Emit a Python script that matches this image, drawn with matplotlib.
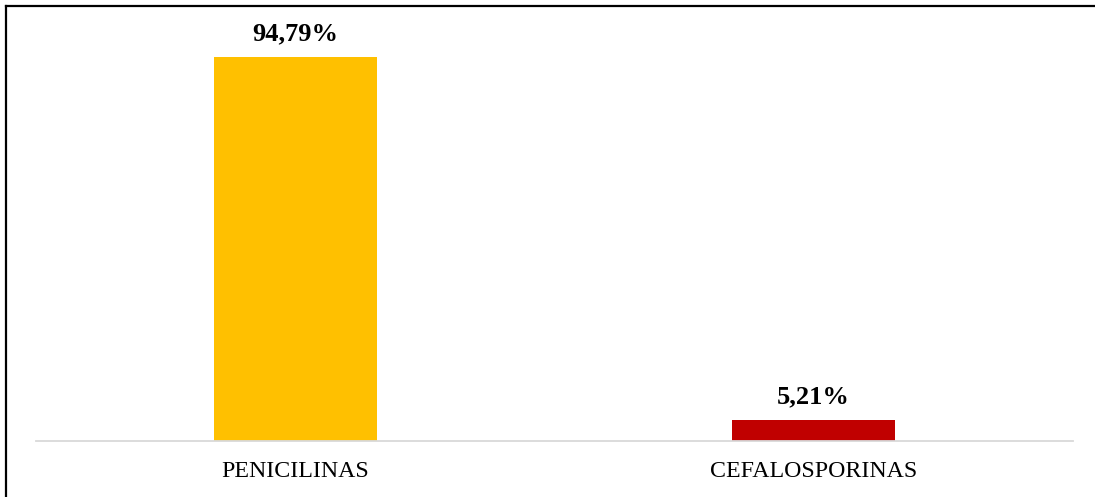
import matplotlib.pyplot as plt
from matplotlib.lines import Line2D

categorias = ['PENICILINAS', 'CEFALOSPORINAS']
porcentajes = [94.79, 5.21]
colores = ['#FFC000', '#C00000']

plt.rcParams['font.family'] = ['Liberation Serif', 'DejaVu Serif']

fig = plt.figure(figsize=(10.95, 4.97), dpi=100)
ax = fig.add_axes([36 / 1095, 56 / 497, 1037 / 1095, 405 / 497])

x = range(len(categorias))
bars = ax.bar(x, porcentajes, width=0.314, color=colores, zorder=2)

# etiquetas de valor encima de cada barra
for b, v in zip(bars, porcentajes):
    etiqueta = f'{v:.2f}%'.replace('.', ',')
    ax.annotate(etiqueta, (b.get_x() + b.get_width() / 2, v),
                xytext=(0, 12), textcoords='offset points',
                ha='center', va='baseline', fontsize=19, fontweight='bold')

ax.set_xlim(-0.5, 1.5)
ax.set_ylim(0, 100)
ax.set_xticks(list(x))
ax.set_xticklabels(categorias, fontsize=17.2)
ax.tick_params(axis='x', length=0, pad=14.3)
ax.set_yticks([])
for side in ['top', 'right', 'left']:
    ax.spines[side].set_visible(False)
ax.spines['bottom'].set_color('#D9D9D9')
ax.spines['bottom'].set_linewidth(1.3)

# marco exterior (solo lados izquierdo y superior)
fig.add_artist(Line2D([6 / 1095, 6 / 1095], [0, 1 - 5.5 / 497], color='black',
                      linewidth=1.6, transform=fig.transFigure))
fig.add_artist(Line2D([6 / 1095, 1], [1 - 5.5 / 497, 1 - 5.5 / 497], color='black',
                      linewidth=1.6, transform=fig.transFigure))

fig.savefig('out.png', dpi=100)
